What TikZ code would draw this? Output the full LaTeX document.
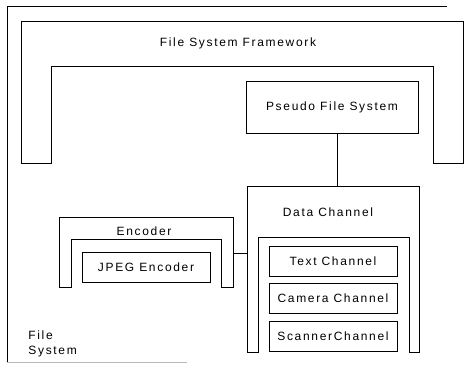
\documentclass[tikz,border=0pt]{standalone}
\usepackage{fontspec}
\setmainfont{Liberation Sans}[LetterSpace=14]
\begin{document}
\begin{tikzpicture}[x=1pt,y=-1pt,line width=0.8pt,
  lbl/.style={font=\fontsize{12}{15}\selectfont,inner sep=0pt},
  box/.style={draw,rectangle,lbl},
  chan/.style={box,minimum width=128pt,minimum height=30pt},
  frame/.style={draw,line join=miter}]
\useasboundingbox (0,0) rectangle (476,372);

% outer file system border
\draw (447,6) -- (7,6) -- (7,362);
\draw[gray!55] (7,362) -- (187,362);
\node[lbl,anchor=west,align=left] (fs) at (28,344) {File\\System};

% file system framework (inverted U)
\draw[frame] (21,163) -- (21,21) -- (463,21) -- (463,163) -- (433,163)
  -- (433,66) -- (51,66) -- (51,163) -- cycle;
\node[lbl] (fsf) at (238,43) {File System Framework};

% pseudo file system
\node[box,minimum width=172pt,minimum height=52pt] (pfs) at (332,107) {Pseudo File System};

% data channel (inverted U) with its channels
\draw[frame] (247,352) -- (247,186) -- (419,186) -- (419,352) -- (409,352)
  -- (409,237) -- (258,237) -- (258,352) -- cycle;
\node[lbl] (dc) at (328,212) {Data Channel};
\node[chan] (text) at (333,261) {Text Channel};
\node[chan] (cam) at (333,298) {Camera Channel};
\node[chan] (scan) at (333,336) {ScannerChannel};

% encoder (inverted U) with JPEG encoder
\draw[frame] (59,287) -- (59,217) -- (233,217) -- (233,287) -- (221,287)
  -- (221,239) -- (71,239) -- (71,287) -- cycle;
\node[lbl] (enc) at (144,231) {Encoder};
\node[chan] (jpeg) at (146,267) {JPEG Encoder};

% connectors
\coordinate (dctop) at (337,186);
\draw (dctop |- pfs.south) -- (dctop);
\coordinate (encR) at (233,253);
\coordinate (dcL) at (247,253);
\draw (encR) -- (dcL);
\end{tikzpicture}
\end{document}
